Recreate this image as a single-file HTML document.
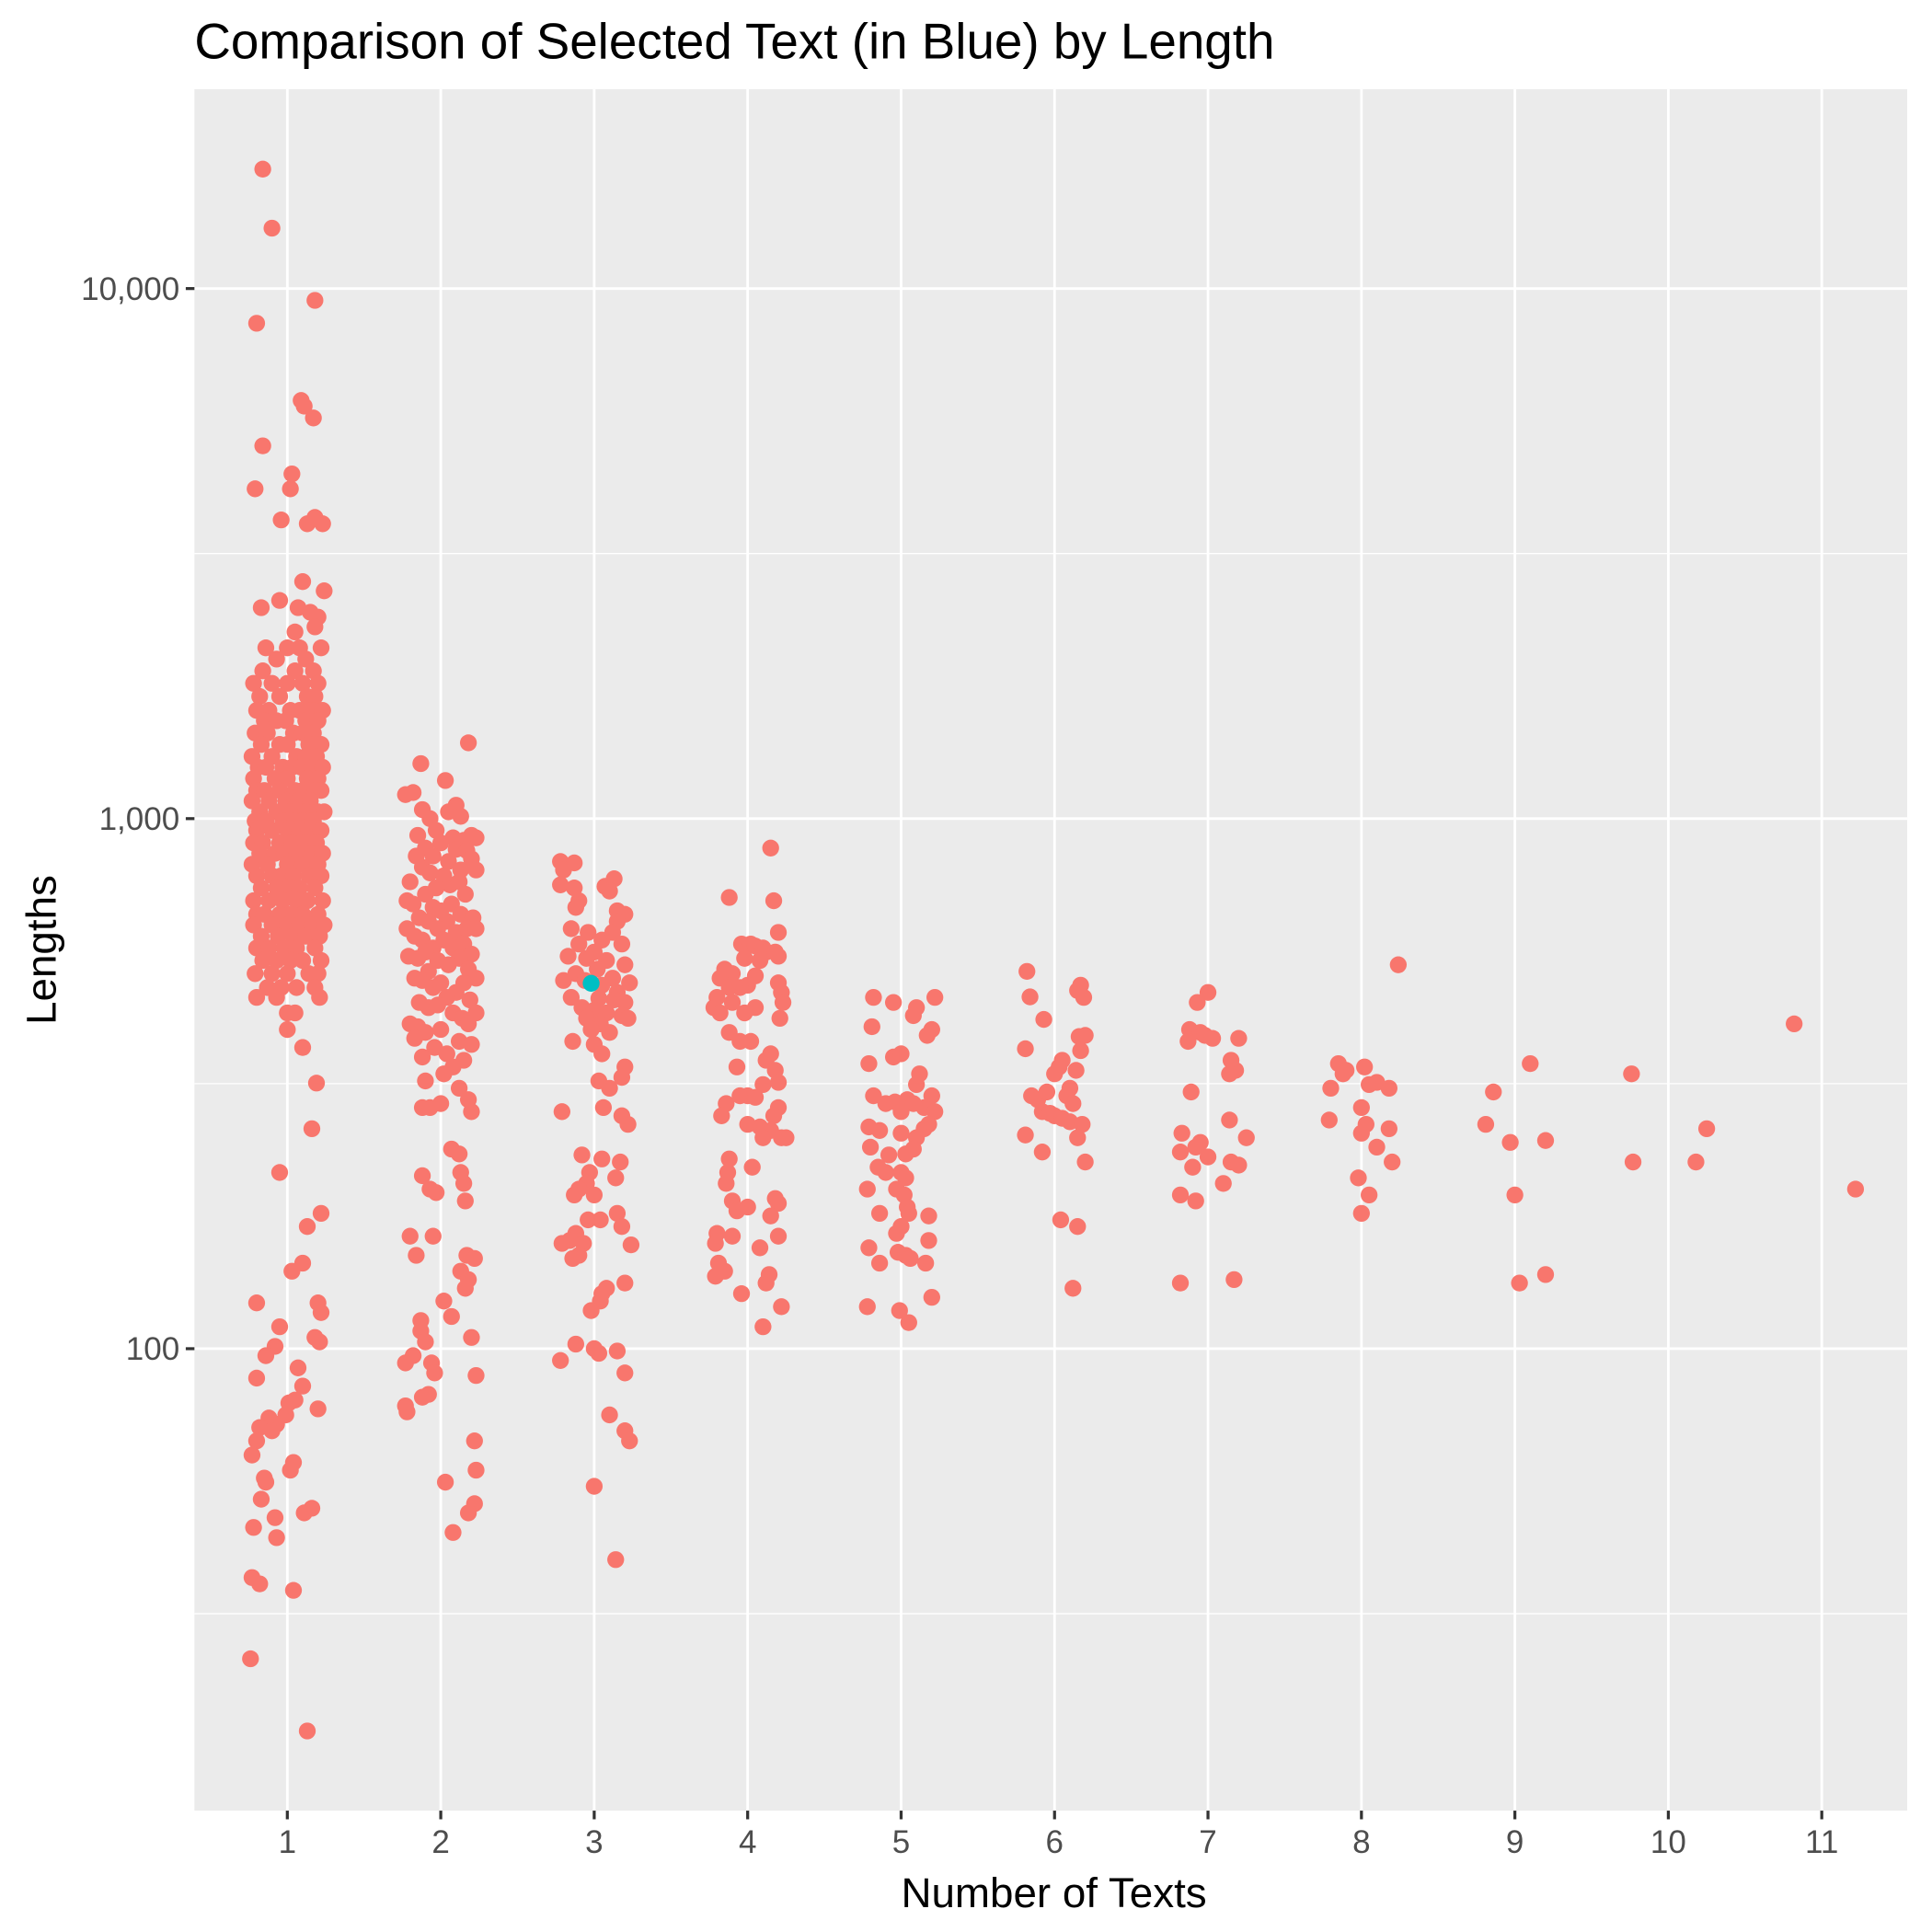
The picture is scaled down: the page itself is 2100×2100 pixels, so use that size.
<!DOCTYPE html>
<html><head><meta charset="utf-8"><style>
html,body{margin:0;padding:0;background:#fff;}
svg{display:block;font-family:"Liberation Sans",Arial,sans-serif;}
</style></head><body>
<svg id="chart" width="2100" height="2100" viewBox="0 0 1560 1560" xmlns="http://www.w3.org/2000/svg">
<rect x="0" y="0" width="1560" height="1560" fill="#fff"/>
<text x="157" y="47" font-size="40.7" fill="#000">Comparison of Selected Text (in Blue) by Length</text>
<g id="panel"></g>
<text x="851" y="1540" font-size="34" text-anchor="middle" fill="#000">Number of Texts</text>
<text transform="translate(45,767) rotate(-90)" font-size="34" text-anchor="middle" fill="#000">Lengths</text>
</svg>
<script>
const xTicks=[1,2,3,4,5,6,7,8,9,10,11];
const yTicks=[100,1000,10000];
const yTickLabels=["100","1,000","10,000"];
const yMinor=[31.6227766,316.227766,3162.27766];
const highlightPoint=[2.98,489];
const group1Levels=[
[2100,[0.86,1.0,1.08,1.22]],[2000,[0.93,1.12]],[1900,[0.84,1.05,1.17]],[1800,[0.78,0.9,1.0,1.1,1.2]],
[1700,[0.82,0.95,1.13,1.18]],[1600,[0.8,0.88,1.02,1.08,1.16,1.23]],[1530,[0.85,0.93,0.99,1.12,1.2]],
[1450,[0.79,0.87,1.04,1.1,1.17]],[1380,[0.83,0.95,1.0,1.14,1.22]],[1310,[0.77,0.9,1.06,1.12,1.19]],
[1250,[0.81,0.86,0.97,1.03,1.09,1.16,1.23]],[1190,[0.78,0.92,1.0,1.13,1.2]],[1130,[0.8,0.85,0.95,1.05,1.1,1.18,1.22]],
[1080,[0.77,0.88,0.99,1.07,1.15]],[1030,[0.82,0.93,1.02,1.12,1.2,1.24]],[990,[0.79,0.86,0.97,1.05,1.1,1.17]],
[950,[0.8,0.9,1.0,1.08,1.14,1.22]],[900,[0.78,0.84,0.95,1.03,1.12,1.19]],[860,[0.82,0.92,0.98,1.06,1.16,1.23]],
[820,[0.77,0.87,1.0,1.1,1.2]],[780,[0.8,0.9,0.96,1.04,1.14,1.22]],[740,[0.83,0.93,1.01,1.08,1.18]],
[700,[0.78,0.88,0.97,1.06,1.13,1.23]],[660,[0.8,0.85,0.95,1.02,1.1,1.2]],[630,[0.78,0.9,1.0,1.08,1.16,1.24]],
[600,[0.83,0.94,1.04,1.12,1.21]],[570,[0.8,0.88,0.98,1.06,1.18]],[540,[0.84,0.93,1.02,1.1,1.22]],
[510,[0.79,0.9,1.0,1.14,1.2]],[480,[0.87,0.96,1.06,1.18]],[460,[0.8,0.93,1.21]],[430,[1.0,1.05]],
[400,[1.0]],[370,[1.1]],[317,[1.19]],[260,[1.16]]
];
const group1Sparse=[[0.84,16800],[0.9,13000],[1.18,9500],[0.8,8600],[1.09,6150],[1.11,6000],[1.17,5700],[0.84,5050],[1.03,4470],[1.02,4190],[0.79,4190],[0.96,3660],[1.13,3600],[1.18,3700],[1.23,3600],[1.1,2800],[1.24,2690],[0.95,2580],[0.83,2500],[1.07,2500],[1.15,2450],[1.2,2400],[1.05,2250],[1.18,2300],
[0.95,215],[1.22,180],[1.13,170],[1.1,145],[1.03,140],[0.8,122],[1.2,122],[1.22,117],[0.95,110],[1.18,105],[1.21,103],[0.92,101],[0.86,97],[1.07,92],[0.8,88],[1.1,85],[1.01,79],[1.05,80],[1.2,77],[0.99,75],[0.88,74],[0.93,72],[0.82,71],[0.9,70],[0.8,67],[0.77,63],[1.04,61],[1.02,59],[0.85,57],[0.86,56],[0.83,52],[1.16,50],[1.11,49],[0.92,48],[0.78,46],[0.93,44],[0.77,37],[0.82,36],[1.04,35],[0.76,26],[1.13,19]];
const group2=[[2.18,1390],[1.87,1270],[2.03,1180],[1.77,1110],[1.82,1120],[2.1,1060],[1.88,1040],[1.93,1000],[2.13,1010],[2.05,1030],[1.97,950],[1.85,930],[2.2,930],[2.08,920],[2.15,910],[2.23,920],[2.0,900],[1.9,880],[2.1,875],[2.17,870],[1.84,850],[1.95,850],[2.2,840],[2.05,830],[1.88,810],[2.13,800],[2.23,800],[1.93,790],[2.02,780],[1.8,760],[2.06,750],[2.12,760],[1.97,740],[2.16,720],[1.9,720],[1.78,700],[1.82,690],[2.07,690],[1.95,680],[2.0,670],[2.13,660],[2.21,650],[1.86,650],[1.92,640],[2.04,640],[1.98,620],[2.1,610],[2.17,620],[2.23,620],[1.78,620],[1.83,600],[1.88,590],[2.02,590],[2.15,580],[2.08,570],[1.95,570],[1.9,560],[1.79,550],[1.85,545],[2.2,555],[2.12,545],[1.98,540],[2.05,530],[2.18,520],[1.92,515],[2.23,500],[1.83,500],[1.88,495],[2.15,490],[2.0,490],[1.95,480],[2.1,470],[2.04,460],[2.19,455],[1.86,450],[1.92,440],[1.98,445],[2.08,430],[2.23,430],[2.14,420],[1.8,410],[1.85,405],[2.0,400],[2.18,410],[1.9,395],[1.83,385],[2.12,380],[2.2,375],[1.96,370],[2.04,360],[1.88,355],[2.15,350],[2.08,340],[2.02,330],[1.9,320],[2.12,310],[2.18,295],[2.0,290],[1.88,285],[1.93,285],[2.2,280],
[1.88,212],[1.93,200],[1.97,197],[2.07,238],[2.12,233],[2.13,215],[2.15,205],[2.16,190],[1.8,163],[1.95,163],[1.84,150],[2.17,150],[2.22,148],[2.13,140],[2.18,135],[2.16,130],[2.02,123],[2.07,115],[1.87,113],[1.87,108],[1.9,103],[2.2,105],[1.82,97],[1.77,94],[1.94,94],[1.96,90],[2.23,89],[1.92,82],[1.88,81],[1.77,78],[1.78,76],[2.22,67],[2.23,59],[2.03,56],[2.22,51],[2.18,49],[2.08,45]];
const group3=[[2.78,830],[2.87,825],[2.8,800],[3.13,770],[2.78,750],[2.87,740],[3.07,745],[3.1,730],[2.9,700],[2.88,680],[3.15,670],[3.2,660],[3.15,640],[2.96,610],[2.85,620],[3.18,580],[3.05,590],[3.12,610],[2.9,580],[3.0,560],[2.83,550],[2.95,545],[3.08,540],[3.2,530],[3.02,520],[2.88,510],[3.12,500],[2.8,495],[2.94,495],[3.23,490],[3.05,485],[3.15,470],[2.85,460],[3.03,458],[3.13,455],[3.2,450],[2.92,440],[3.0,435],[3.08,430],[3.18,425],[2.95,420],[3.04,410],[3.22,420],[2.98,400],[3.1,395],[2.86,380],[3.0,375],[3.05,360],[3.2,340],[3.18,325],[3.03,320],[3.1,310],[3.06,285],[2.79,280],[3.22,265],[3.18,275],[2.92,232],[3.05,228],[3.17,225],[2.97,215],[3.14,210],[2.95,205],[2.9,200],[2.87,195],[3.0,195],[3.15,180],[2.96,175],[3.04,175],[3.18,170],[2.88,165],[2.84,160],[2.93,158],[2.79,158],[3.24,157],[2.9,150],[2.86,148],[3.08,130],[3.2,133],[3.05,127],[3.04,123],[2.98,118],[2.88,102],[3.0,100],[3.03,98],[3.15,99],[2.78,95],[3.2,90],[3.1,75],[3.2,70],[3.23,67],[3.0,55],[3.14,40]];
const group4=[[4.15,880],[3.88,710],[4.17,700],[4.2,610],[3.96,580],[4.02,580],[4.05,575],[4.1,570],[4.12,560],[4.18,560],[4.2,550],[3.98,545],[4.08,540],[3.85,520],[3.9,510],[3.82,500],[4.05,505],[4.0,485],[3.88,480],[3.95,480],[4.2,490],[4.22,470],[3.8,460],[3.9,450],[4.23,450],[3.78,440],[3.82,430],[4.05,440],[3.98,430],[4.21,420],[3.88,395],[3.95,380],[4.02,380],[4.15,360],[4.12,350],[3.93,340],[4.18,335],[4.1,315],[4.2,318],[3.95,300],[4.0,300],[4.05,298],[3.86,290],[4.2,285],[3.83,275],[4.17,275],[4.0,265],[4.08,262],[4.15,258],[4.22,250],[4.1,250],[4.25,250],[3.88,228],[4.03,220],[3.87,215],[3.86,205],[4.18,192],[3.9,190],[4.2,188],[4.0,185],[3.93,182],[4.15,178],[3.8,165],[3.9,163],[4.2,163],[3.79,158],[4.08,155],[3.81,145],[3.85,140],[3.79,137],[4.14,138],[4.12,133],[3.96,127],[4.22,120],[4.1,110]];
const group5=[[4.82,460],[4.95,450],[5.1,440],[5.08,425],[5.22,460],[4.81,405],[5.2,400],[5.17,390],[4.95,355],[5.0,360],[4.79,345],[5.12,330],[5.1,315],[4.82,300],[5.2,300],[4.9,290],[4.96,292],[5.04,295],[5.08,290],[5.0,280],[5.15,285],[5.22,280],[5.18,265],[4.79,262],[4.86,258],[5.0,255],[5.1,250],[5.15,260],[4.8,240],[4.92,232],[5.03,233],[5.08,238],[4.85,220],[4.9,215],[5.0,215],[5.03,210],[4.97,200],[4.78,200],[5.02,195],[5.04,185],[5.05,180],[4.86,180],[5.18,178],[5.0,170],[4.97,165],[5.18,160],[4.79,155],[4.98,152],[5.03,150],[5.06,148],[4.86,145],[5.16,145],[5.2,125],[4.78,120],[4.99,118],[5.05,112]];
const group6=[[5.82,515],[5.84,461],[5.93,418],[5.81,368],[5.85,300],[5.89,295],[5.95,305],[6.0,330],[6.03,340],[6.05,350],[6.15,474],[6.17,485],[6.19,460],[6.16,388],[6.2,390],[6.17,365],[6.14,335],[6.1,310],[6.08,300],[6.12,290],[5.92,280],[5.97,278],[6.0,275],[6.05,272],[6.1,268],[6.18,265],[5.81,253],[5.92,235],[6.15,250],[6.2,225],[6.04,175],[6.15,170],[6.12,130]];
const group7=[[7.0,470],[6.93,450],[6.88,400],[6.95,395],[6.98,390],[7.03,385],[6.87,380],[7.2,385],[7.15,350],[7.18,335],[7.14,330],[6.89,305],[7.14,270],[6.83,255],[7.25,250],[6.95,245],[6.92,240],[6.82,235],[7.0,230],[7.15,225],[7.2,222],[6.9,220],[7.1,205],[6.82,195],[6.92,190],[6.82,133],[7.17,135]];
const group8=[[8.24,530],[7.85,345],[7.9,335],[8.02,340],[7.88,330],[7.8,310],[8.05,315],[8.1,318],[8.18,310],[8.0,285],[7.79,270],[8.03,265],[8.0,255],[8.18,260],[8.1,240],[8.2,225],[7.98,210],[8.05,195],[8.0,180]];
const group9to11=[[9.1,345],[8.86,305],[8.81,265],[8.97,245],[9.2,247],[9.0,195],[9.2,138],[9.03,133],[9.76,330],[9.77,225],[10.25,260],[10.18,225],[10.82,410],[11.22,200]];

const P={l:157,r:1540,t:72,b:1462};
function xs(v){return 232+(v-1)*123.9;}
function ys(v){return 233+(4-Math.log10(v))*428;}
const NS="http://www.w3.org/2000/svg";
const panel=document.getElementById('panel');
const svg=document.getElementById('chart');
function mk(tag,attrs,parent){const e=document.createElementNS(NS,tag);for(const k in attrs)e.setAttribute(k,attrs[k]);(parent||panel).appendChild(e);return e;}
let bg=mk('rect',{x:P.l,y:P.t,width:P.r-P.l,height:P.b-P.t,fill:'#ebebeb'});


yMinor.forEach(v=>{const l=mk('line',{x1:P.l,x2:P.r,y1:ys(v),y2:ys(v),stroke:'#fff','stroke-width':1});

});
yTicks.forEach((v,i)=>{const l=mk('line',{x1:P.l,x2:P.r,y1:ys(v),y2:ys(v),stroke:'#fff','stroke-width':2.1});


const t=mk('line',{x1:P.l-7,x2:P.l,y1:ys(v),y2:ys(v),stroke:'#333','stroke-width':2.4},svg);


const tx=mk('text',{x:P.l-12,y:ys(v)+9,'font-size':26,'text-anchor':'end',fill:'#4d4d4d'},svg);
tx.textContent=yTickLabels[i];

});
xTicks.forEach(v=>{const l=mk('line',{x1:xs(v),x2:xs(v),y1:P.t,y2:P.b,stroke:'#fff','stroke-width':2.1});


const t=mk('line',{x1:xs(v),x2:xs(v),y1:P.b,y2:P.b+7,stroke:'#333','stroke-width':2.4},svg);


const tx=mk('text',{x:xs(v),y:P.b+34,'font-size':26,'text-anchor':'middle',fill:'#4d4d4d'},svg);
tx.textContent=String(v);

});
const all=[];
group1Levels.forEach(([v,xsArr])=>xsArr.forEach(x=>all.push([x,v])));
[group1Sparse,group2,group3,group4,group5,group6,group7,group8,group9to11].forEach(g=>g.forEach(p=>all.push(p)));
all.forEach(([x,v])=>{const c=mk('circle',{cx:xs(x),cy:ys(v),r:6.8,fill:'#f8766d'});

});
const h=mk('circle',{cx:xs(highlightPoint[0]),cy:ys(highlightPoint[1]),r:6.8,fill:'#00bfc4'});


</script>
</body></html>
